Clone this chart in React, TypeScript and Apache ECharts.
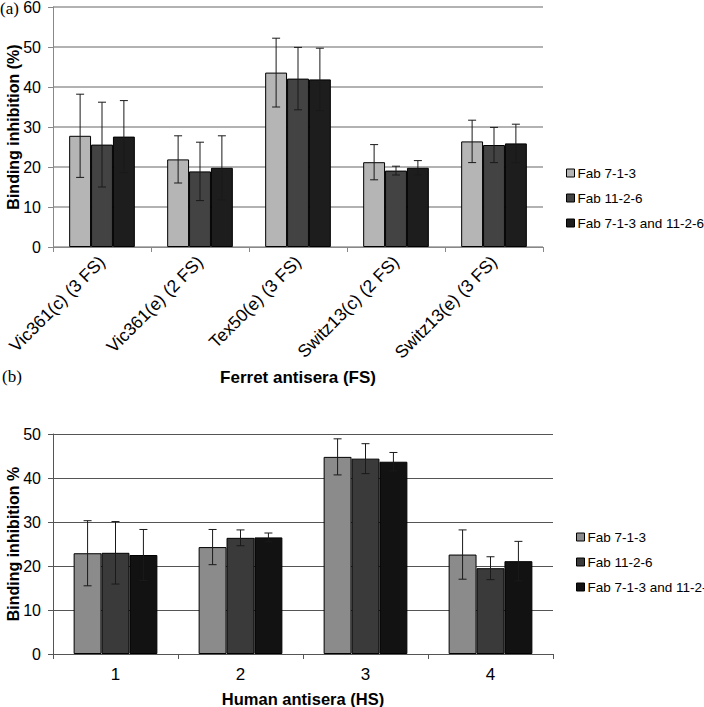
import React, { useEffect, useRef } from "react";
import * as echarts from "echarts";

const seriesNames = ["Fab 7-1-3", "Fab 11-2-6", "Fab 7-1-3 and 11-2-6"];

// Panel (a): ferret antisera
const ferretCategories = [
  "Vic361(c) (3 FS)",
  "Vic361(e) (2 FS)",
  "Tex50(e) (3 FS)",
  "Switz13(c) (2 FS)",
  "Switz13(e) (3 FS)",
];
const ferretFab713 = [27.8, 21.9, 43.6, 21.2, 26.4];
const ferretFab713Err = [10.4, 5.9, 8.6, 4.4, 5.3];
const ferretFab1126 = [25.6, 18.9, 42.1, 19.1, 25.5];
const ferretFab1126Err = [10.6, 7.3, 7.8, 1.1, 4.4];
const ferretBoth = [27.6, 19.8, 41.9, 19.8, 25.9];
const ferretBothErr = [9.0, 8.0, 7.8, 1.8, 4.8];

// Panel (b): human antisera
const humanCategories = ["1", "2", "3", "4"];
const humanFab713 = [22.9, 24.3, 44.8, 22.6];
const humanFab713Err = [7.4, 4.0, 4.1, 5.6];
const humanFab1126 = [23.0, 26.4, 44.4, 19.5];
const humanFab1126Err = [7.1, 1.8, 3.4, 2.6];
const humanBoth = [22.5, 26.5, 43.7, 21.1];
const humanBothErr = [5.8, 1.0, 2.1, 4.5];

const ferretColors = ["#b5b5b5", "#434343", "#1d1d1d"];
const humanColors = ["#8b8b8b", "#3a3a3a", "#121212"];

const FONT = "'Liberation Sans', Arial, sans-serif";
const GAP = 0.33;

function errorSeries(
  name: string,
  idx: number,
  values: number[],
  errs: number[],
  axisIndex: number
) {
  return {
    type: "custom",
    name: name + " error",
    xAxisIndex: axisIndex,
    yAxisIndex: axisIndex,
    silent: true,
    z: 5,
    data: values.map((v, i) => [i, v - errs[i], v + errs[i]]),
    encode: { x: 0, y: [1, 2] },
    renderItem: (params: any, api: any) => {
      const cat = api.value(0);
      const lo = api.value(1);
      const hi = api.value(2);
      const band = api.size([1, 0])[0];
      const bw = (band * (1 - GAP)) / 3;
      const pLo = api.coord([cat, lo]);
      const pHi = api.coord([cat, hi]);
      const x = pLo[0] + (idx - 1) * bw;
      const cap = 4;
      const style = { stroke: "#1a1a1a", lineWidth: 1 };
      return {
        type: "group",
        children: [
          { type: "line", shape: { x1: x, y1: pLo[1], x2: x, y2: pHi[1] }, style },
          { type: "line", shape: { x1: x - cap, y1: pHi[1], x2: x + cap, y2: pHi[1] }, style },
          { type: "line", shape: { x1: x - cap, y1: pLo[1], x2: x + cap, y2: pLo[1] }, style },
        ],
      };
    },
  };
}

function barSeries(name: string, values: number[], color: string, axisIndex: number) {
  return {
    type: "bar",
    name,
    xAxisIndex: axisIndex,
    yAxisIndex: axisIndex,
    data: values,
    barGap: "0%",
    barCategoryGap: "33%",
    itemStyle: { color, borderColor: "#000", borderWidth: 1 },
  };
}

export default function App() {
  const ref = useRef<HTMLDivElement>(null);
  useEffect(() => {
    if (!ref.current) return;
    const chart = echarts.init(ref.current, undefined, { renderer: "svg" });
    const axisLabelStyle = { color: "#000", fontFamily: FONT, fontSize: 16 };
    const nameStyle = { color: "#000", fontFamily: FONT, fontSize: 16.5, fontWeight: "bold" as const };
    const yNameStyle = { ...nameStyle, fontSize: 16 };
    const legendData = (colors: string[]) =>
      seriesNames.map((n, i) => ({
        name: n,
        itemStyle: { color: colors[i], borderColor: "#000", borderWidth: 1 },
      }));
    const legendText = { color: "#000", fontFamily: FONT, fontSize: 13.5, padding: [0, 0, 0, -2] };
    chart.setOption({
      animation: false,
      backgroundColor: "#fff",
      grid: [
        { left: 53, right: 161, top: 7, height: 240, containLabel: false, outerBoundsMode: "none" },
        { left: 53, right: 151, top: 434, height: 220, containLabel: false, outerBoundsMode: "none" },
      ],
      legend: [
        {
          orient: "vertical",
          left: 561,
          top: 161,
          icon: "rect",
          itemWidth: 8,
          itemHeight: 8,
          itemGap: 11,
          selectedMode: false,
          data: legendData(ferretColors),
          textStyle: legendText,
        },
        {
          orient: "vertical",
          left: 571,
          top: 525,
          icon: "rect",
          itemWidth: 8,
          itemHeight: 8,
          itemGap: 11,
          selectedMode: false,
          data: legendData(humanColors),
          textStyle: legendText,
        },
      ],
      xAxis: [
        {
          type: "category",
          gridIndex: 0,
          data: ferretCategories,
          axisLine: { lineStyle: { color: "#888", width: 1 } },
          axisTick: { show: true, length: 5, lineStyle: { color: "#888" } },
          axisLabel: { ...axisLabelStyle, fontSize: 17.5, rotate: 45, margin: 12, interval: 0 },
          name: "Ferret antisera (FS)",
          nameLocation: "middle",
          nameGap: 122,
          nameMoveOverlap: false,
          nameTextStyle: { ...nameStyle, fontSize: 17 },
        },
        {
          type: "category",
          gridIndex: 1,
          data: humanCategories,
          axisLine: { lineStyle: { color: "#555", width: 1 } },
          axisTick: { show: true, length: 5, lineStyle: { color: "#555" } },
          axisLabel: { ...axisLabelStyle, fontSize: 17, margin: 12 },
          name: "Human antisera (HS)",
          nameLocation: "middle",
          nameGap: 36,
          nameMoveOverlap: false,
          nameTextStyle: nameStyle,
        },
      ],
      yAxis: [
        {
          type: "value",
          gridIndex: 0,
          min: 0,
          max: 60,
          interval: 10,
          axisLine: { show: true, lineStyle: { color: "#888", width: 1 } },
          axisTick: { show: true, length: 5, lineStyle: { color: "#888" } },
          splitLine: { lineStyle: { color: "#999", width: 1.5 } },
          axisLabel: { ...axisLabelStyle, fontSize: 16, margin: 12 },
          name: "Binding inhibition (%)",
          nameLocation: "middle",
          nameRotate: 90,
          nameGap: 32,
          nameMoveOverlap: false,
          nameTextStyle: yNameStyle,
        },
        {
          type: "value",
          gridIndex: 1,
          min: 0,
          max: 50,
          interval: 10,
          axisLine: { show: true, lineStyle: { color: "#555", width: 1 } },
          axisTick: { show: true, length: 5, lineStyle: { color: "#555" } },
          splitLine: { lineStyle: { color: "#555", width: 1 } },
          axisLabel: { ...axisLabelStyle, fontSize: 16, margin: 12 },
          name: "Binding inhibition %",
          nameLocation: "middle",
          nameRotate: 90,
          nameGap: 32,
          nameMoveOverlap: false,
          nameTextStyle: yNameStyle,
        },
      ],
      graphic: [
        {
          type: "text",
          left: 0,
          top: 0,
          style: { text: "(a)", font: "17px 'Liberation Serif', 'DejaVu Serif', serif", fill: "#000" },
        },
        {
          type: "text",
          left: 2,
          top: 368,
          style: { text: "(b)", font: "17px 'Liberation Serif', 'DejaVu Serif', serif", fill: "#000" },
        },
      ],
      series: [
        barSeries(seriesNames[0], ferretFab713, ferretColors[0], 0),
        barSeries(seriesNames[1], ferretFab1126, ferretColors[1], 0),
        barSeries(seriesNames[2], ferretBoth, ferretColors[2], 0),
        barSeries(seriesNames[0], humanFab713, humanColors[0], 1),
        barSeries(seriesNames[1], humanFab1126, humanColors[1], 1),
        barSeries(seriesNames[2], humanBoth, humanColors[2], 1),
        errorSeries(seriesNames[0], 0, ferretFab713, ferretFab713Err, 0),
        errorSeries(seriesNames[1], 1, ferretFab1126, ferretFab1126Err, 0),
        errorSeries(seriesNames[2], 2, ferretBoth, ferretBothErr, 0),
        errorSeries(seriesNames[0], 0, humanFab713, humanFab713Err, 1),
        errorSeries(seriesNames[1], 1, humanFab1126, humanFab1126Err, 1),
        errorSeries(seriesNames[2], 2, humanBoth, humanBothErr, 1),
      ],
    });
    return () => chart.dispose();
  }, []);
  return (
    <div
      ref={ref}
      style={{ position: "fixed", left: 0, top: 0, width: 704, height: 707, background: "#fff" }}
    />
  );
}
